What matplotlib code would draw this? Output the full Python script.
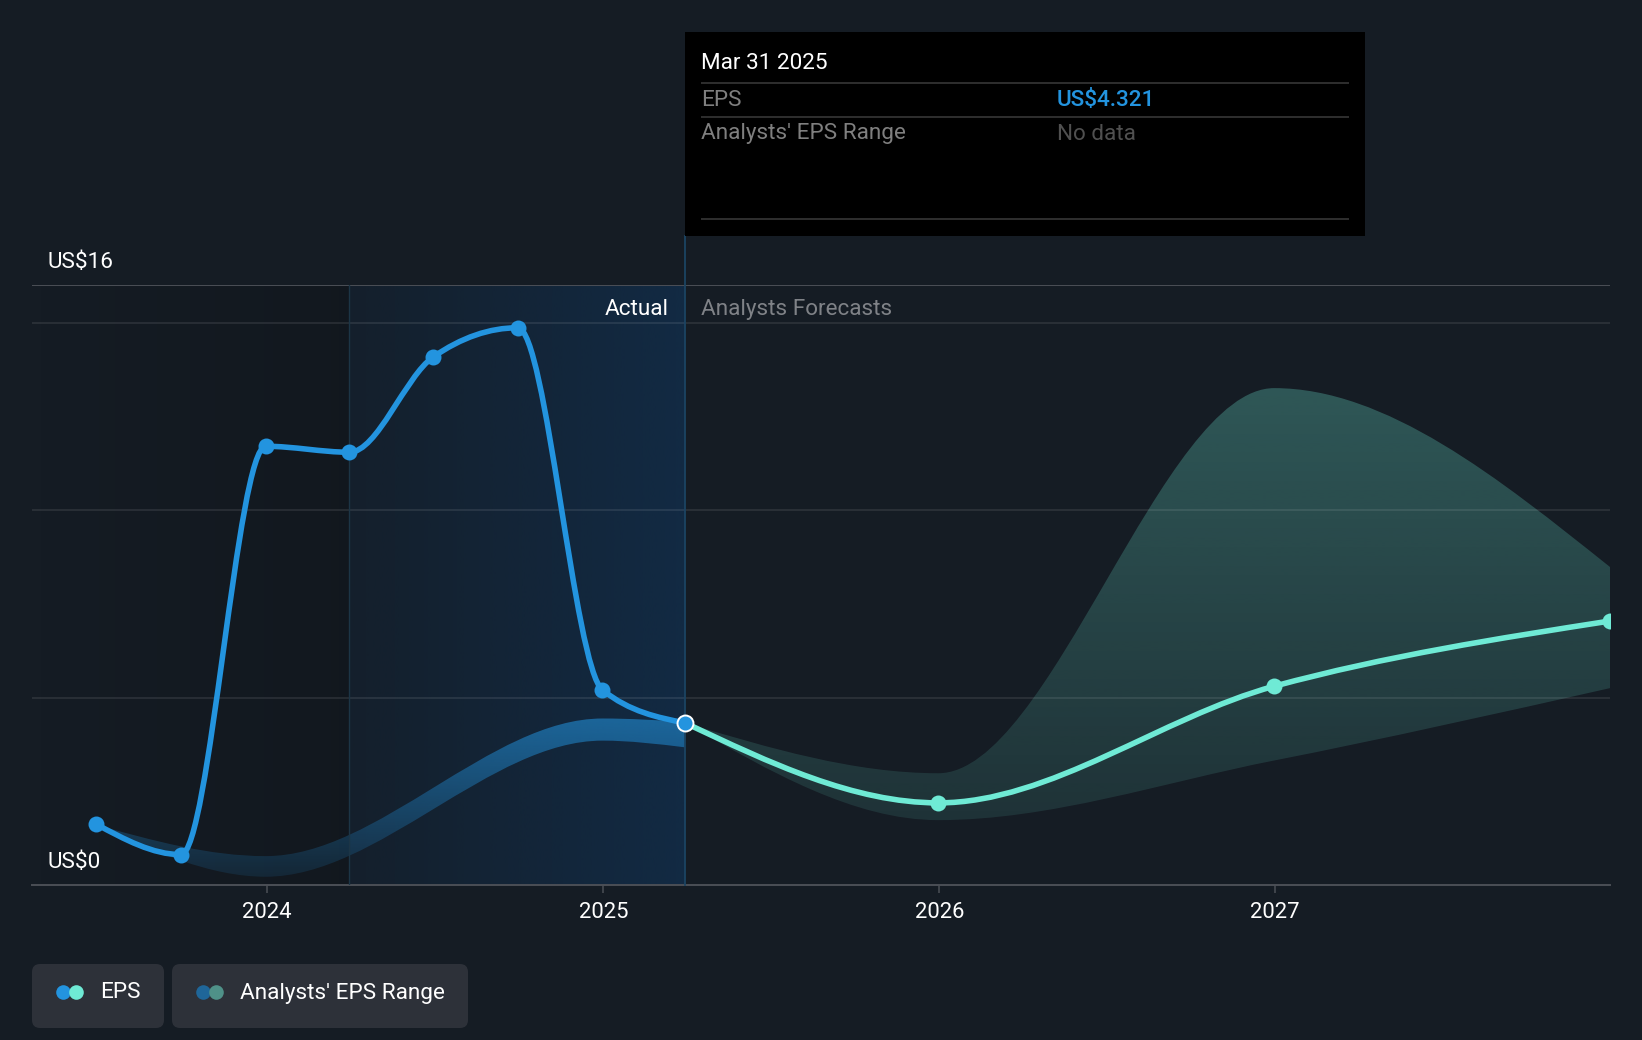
import matplotlib
matplotlib.use("Agg")
import matplotlib.pyplot as plt
import matplotlib.dates as mdates
from matplotlib.patches import FancyBboxPatch, PathPatch, Rectangle
from matplotlib.path import Path
import numpy as np
import pandas as pd

plt.rcParams['font.family'] = ['Roboto', 'DejaVu Sans']

# values (US$)
eps_dates = ["2023-06-30", "2023-09-30", "2023-12-31", "2024-03-31", "2024-06-30",
             "2024-09-30", "2024-12-31", "2025-03-31"]
eps_values = [1.62, 0.81, 11.70, 11.54, 14.08, 14.86, 5.20, 4.321]

forecast_dates = ["2025-03-31", "2025-12-31", "2026-12-31", "2027-12-31"]
forecast_values = [4.321, 2.19, 5.30, 7.04]
forecast_upper = [4.321, 2.98, 13.25, 8.48]
forecast_lower = [4.321, 1.73, 3.32, 5.25]

past_range_dates = ["2023-06-30", "2023-12-31", "2024-12-31", "2025-03-31"]
past_range_upper = [1.60, 0.77, 4.44, 4.35]
past_range_lower = [1.60, 0.22, 3.85, 3.67]

year_ticks = ["2024-01-01", "2025-01-01", "2026-01-01", "2027-01-01"]
year_labels = ["2024", "2025", "2026", "2027"]
grid_values = [5, 10, 15]

BG = "#151c24"
BLUE = "#2394df"
TEAL = "#6fead5"
W, H = 1642, 1040
FS = 16.2


def nums(dates):
    return mdates.date2num(pd.to_datetime(dates))


def tangents(x, y):
    # same rule as a monotone-x curve
    h = np.diff(x)
    s = np.diff(y) / h
    t = np.zeros(len(x))
    for i in range(1, len(x) - 1):
        p = (s[i - 1] * h[i] + s[i] * h[i - 1]) / (h[i - 1] + h[i])
        t[i] = (np.sign(s[i - 1]) + np.sign(s[i])) * min(abs(s[i - 1]), abs(s[i]), 0.5 * abs(p))
    t[0] = (3 * s[0] - t[1]) / 2
    t[-1] = (3 * s[-1] - t[-2]) / 2
    return t


def curve(x, y):
    x, y = np.asarray(x, float), np.asarray(y, float)
    t = tangents(x, y)
    verts, codes = [(x[0], y[0])], [Path.MOVETO]
    for i in range(len(x) - 1):
        d = (x[i + 1] - x[i]) / 3
        verts += [(x[i] + d, y[i] + d * t[i]), (x[i + 1] - d, y[i + 1] - d * t[i + 1]), (x[i + 1], y[i + 1])]
        codes += [Path.CURVE4] * 3
    return verts, codes


def band(x, upper, lower):
    v1, c1 = curve(x, upper)
    v2, c2 = curve(x[::-1], lower[::-1])
    c2[0] = Path.LINETO
    return Path(v1 + v2 + [v1[0]], c1 + c2 + [Path.CLOSEPOLY])


def gradient(ax, color, a0, a1, extent, horizontal=False, clip=None, z=1):
    # a0 -> a1 runs left to right, or top to bottom of the extent
    n = 256
    img = np.zeros((n, 1, 4)) if not horizontal else np.zeros((1, n, 4))
    img[..., :3] = matplotlib.colors.to_rgb(color)
    ramp = np.linspace(a0, a1, n)
    img[..., 3] = ramp[None, :] if horizontal else ramp[:, None]
    im = ax.imshow(img, extent=extent, aspect='auto', zorder=z, interpolation='bilinear')
    if clip is not None:
        patch = PathPatch(clip, transform=ax.transData, fc='none', ec='none')
        ax.add_patch(patch)
        im.set_clip_path(patch)
    return im


fig = plt.figure(figsize=(W / 100, H / 100), dpi=100, facecolor=BG)
ax = fig.add_axes([32 / W, 1 - 885 / H, (1610 - 32) / W, 600 / H], facecolor=BG)

x_eps = nums(eps_dates)
x_fc = nums(forecast_dates)
x_past = nums(past_range_dates)
x_left = mdates.date2num(pd.Timestamp("2023-04-21"))
x_right = x_fc[-1]
today = x_eps[-1]
year_start = x_eps[3]

# shaded history
gradient(ax, "#000000", 0.0, 0.15, [x_left, year_start, 0, 16], horizontal=True)
gradient(ax, "#0f3a66", 0.12, 0.48, [year_start, today, 0, 16], horizontal=True)

# range bands
gradient(ax, BLUE, 0.58, 0.10, [x_past[0], today, 0, 4.5],
         clip=band(x_past, past_range_upper, past_range_lower), z=2)
gradient(ax, TEAL, 0.29, 0.11, [today, x_right, 1.7, 13.3],
         clip=band(x_fc, forecast_upper, forecast_lower), z=2)

# grid
for g in grid_values:
    ax.axhline(g, color="#ffffff", alpha=0.10, lw=1.2, zorder=3)
ax.axhline(16, color="#4b4f56", lw=1.4, zorder=3)
ax.plot([year_start] * 2, [0, 16], color="#1c3546", lw=1.0, zorder=3)
ax.plot([today] * 2, [0, 17.3], color="#1b4463", lw=1.3, zorder=3, clip_on=False)

# lines
v, c = curve(x_eps, eps_values)
ax.add_patch(PathPatch(Path(v, c), fc='none', ec=BLUE, lw=4.0, zorder=4, capstyle='round'))
v, c = curve(x_fc, forecast_values)
ax.add_patch(PathPatch(Path(v, c), fc='none', ec=TEAL, lw=4.0, zorder=4, capstyle='round'))
ax.plot(x_eps[:-1], eps_values[:-1], 'o', color=BLUE, ms=11.5, mew=0, zorder=5)
ax.plot(x_fc[1:], forecast_values[1:], 'o', color=TEAL, ms=11.5, mew=0, zorder=5)
ax.plot(x_eps[-1], eps_values[-1], 'o', mfc=BLUE, mec="white", ms=11.5, mew=1.4, zorder=6)

ax.set_xlim(x_left, x_right)
ax.set_ylim(0, 16)
ax.set_yticks([])
ax.set_xticks(nums(year_ticks))
ax.set_xticklabels(year_labels, color="white", fontsize=15.8)
ax.tick_params(axis='x', length=6, width=1.1, color="#4b4f56", pad=6)
for side in ['top', 'left', 'right']:
    ax.spines[side].set_visible(False)
ax.spines['bottom'].set_color("#4b4f56")
ax.spines['bottom'].set_linewidth(1.4)

ax.annotate("US$16", xy=(0, 16), xycoords=('axes fraction', 'data'), xytext=(11.5, 16.2),
            textcoords='offset points', color="white", fontsize=FS, va='center')
ax.annotate("US$0", xy=(0, 0), xycoords=('axes fraction', 'data'), xytext=(11.5, 16.2),
            textcoords='offset points', color="white", fontsize=FS, va='center')
ax.annotate("Actual", xy=(today, 16), xytext=(-12, -17.8), textcoords='offset points',
            color="white", fontsize=FS, ha='right', va='center')
ax.annotate("Analysts Forecasts", xy=(today, 16), xytext=(11, -17.8), textcoords='offset points',
            color="#7f8287", fontsize=FS, ha='left', va='center')

# overlay in pixels for the tooltip and the legend chips
ov = fig.add_axes([0, 0, 1, 1], facecolor='none')
ov.set_xlim(0, W)
ov.set_ylim(H, 0)
ov.axis('off')

ov.add_patch(Rectangle((685, 32), 680, 204, fc="black", ec='none'))
for y in [83, 117, 219]:
    ov.plot([701, 1349], [y, y], color="#3c3c3c", lw=1.1, solid_capstyle='butt')
ov.text(701, 63.5, "Mar 31 2025", color="white", fontsize=FS, va='center')
ov.text(701, 100, "EPS", color="#7f7f7f", fontsize=FS, va='center')
ov.text(1057, 100, "US$4.321", color=BLUE, fontsize=FS, va='center', fontweight='medium')
ov.text(701, 134, "Analysts' EPS Range", color="#7f7f7f", fontsize=FS, va='center')
ov.text(1057, 134, "No data", color="#505050", fontsize=FS, va='center')

for x0, x1 in [(32, 164), (172, 468)]:
    ov.add_patch(FancyBboxPatch((x0 + 8, 964 + 8), x1 - x0 - 16, 64 - 16,
                                boxstyle="round,pad=8,rounding_size=8", fc="#2d3139", ec='none'))
ov.plot([63], [992], 'o', color=BLUE, ms=10.5, mew=0)
ov.plot([76], [992], 'o', color=TEAL, ms=10.5, mew=0)
ov.plot([203], [992], 'o', color="#1f6699", ms=10.5, mew=0)
ov.plot([216], [992], 'o', color="#4f9188", ms=10.5, mew=0)
ov.text(100, 993, "EPS", color="white", fontsize=FS, va='center')
ov.text(240, 993, "Analysts' EPS Range", color="white", fontsize=FS, va='center')

fig.savefig("out.png", dpi=100, facecolor=BG)
